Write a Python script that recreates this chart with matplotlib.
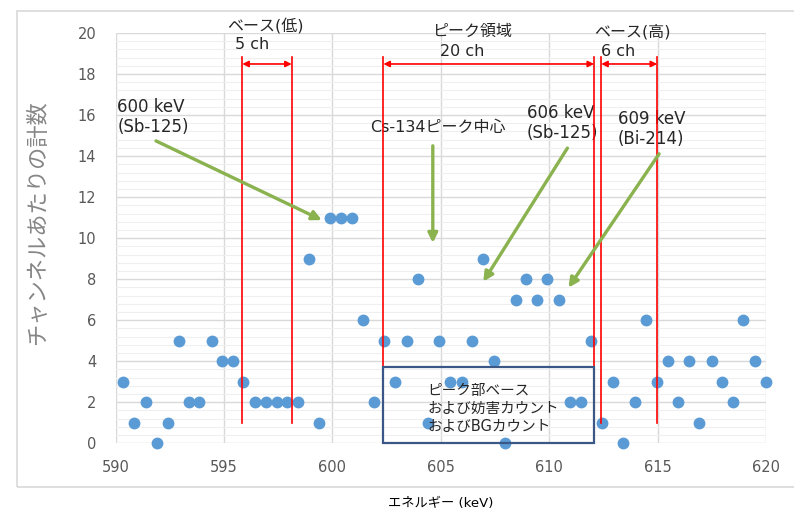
import numpy as np
import matplotlib
matplotlib.use('Agg')
import matplotlib.pyplot as plt
from matplotlib.patches import Rectangle
from matplotlib.ticker import MultipleLocator

plt.rcParams['font.family'] = ['DejaVu Sans', 'Noto Sans CJK JP']

# channel energies (keV) and counts
energy = [590.35, 590.86, 591.38, 591.92, 592.40, 592.90, 593.37, 593.86, 594.43, 594.92,
          595.40, 595.89, 596.43, 596.92, 597.43, 597.92, 598.40, 598.92, 599.40, 599.89,
          600.38, 600.89, 601.43, 601.92, 602.40, 602.89, 603.46, 603.94, 604.43, 604.92,
          605.43, 605.97, 606.46, 606.94, 607.43, 607.97, 608.47, 608.93, 609.43, 609.92,
          610.47, 610.96, 611.46, 611.93, 612.43, 612.93, 613.42, 613.96, 614.46, 614.96,
          615.47, 615.96, 616.46, 616.93, 617.50, 617.99, 618.47, 618.93, 619.50, 620.00]
counts = [3, 1, 2, 0, 1, 5, 2, 2, 5, 4,
          4, 3, 2, 2, 2, 2, 2, 9, 1, 11,
          11, 11, 6, 2, 5, 3, 5, 8, 1, 5,
          3, 3, 5, 9, 4, 0, 7, 8, 7, 8,
          7, 2, 2, 5, 1, 3, 0, 2, 6, 3,
          4, 2, 4, 1, 4, 3, 2, 6, 4, 3]

# region boundaries (keV)
base_low = (595.84, 598.12)
peak = (602.35, 612.07)
base_high = (612.40, 614.98)

red = '#FF0000'
green = '#8AB24F'
txt = '#262626'

fig = plt.figure(figsize=(7.94, 5.11), dpi=100)
ax = fig.add_axes([0.1457, 0.1325, 0.8190, 0.8029])

# outer chart frame
fig.patches.append(Rectangle((17/794, 1-487/511), 1.0, 476/511, transform=fig.transFigure,
                             fill=False, ec='#D9D9D9', lw=1.2, zorder=0))

ax.set_xlim(590, 620)
ax.set_ylim(0, 20)
ax.xaxis.set_major_locator(MultipleLocator(5))
ax.yaxis.set_major_locator(MultipleLocator(2))
ax.yaxis.set_minor_locator(MultipleLocator(0.4))
ax.grid(which='major', color='#D9D9D9', lw=1.0)
ax.grid(which='minor', axis='y', color='#EFEFEF', lw=0.8)
ax.set_axisbelow(True)
for s in ax.spines.values():
    s.set_visible(False)
ax.tick_params(which='both', length=0, labelsize=10.5, labelcolor='#595959')
ax.tick_params(axis='x', pad=12)
ax.tick_params(axis='y', pad=14)

ax.plot(energy, counts, 'o', color='#5B9BD5', ms=7.5, mec='#5B9BD5', clip_on=False, zorder=3)

# red region boundaries
for xv in [base_low[0], base_low[1], base_high[0], base_high[1]]:
    ax.plot([xv, xv], [1.0, 18.85], color=red, lw=1.2, zorder=4)
for xv in peak:
    ax.plot([xv, xv], [3.74, 18.85], color=red, lw=1.2, zorder=4)
for a, b in [base_low, peak, base_high]:
    ax.annotate('', xy=(b, 18.49), xytext=(a, 18.49),
                arrowprops=dict(arrowstyle='<|-|>', color=red, lw=1.2, mutation_scale=9,
                                shrinkA=0, shrinkB=0), zorder=4)

# box for peak base region
ax.add_patch(Rectangle((peak[0], 0), peak[1]-peak[0], 3.74, fill=False,
                       ec='#3A5786', lw=1.6, zorder=5, clip_on=False))
ax.text(604.38, 1.72, 'ピーク部ベース\nおよび妨害カウント\nおよびBGカウント', fontsize=10.5,
        color=txt, ha='left', va='center', linespacing=1.25, zorder=6)

# labels above regions
ax.text(595.16, 20.32, 'ベース(低)', fontsize=11.5, color=txt, ha='left', va='center', clip_on=False)
ax.text(595.50, 19.44, '5 ch', fontsize=11.5, color=txt, ha='left', va='center')
ax.text(604.58, 20.10, 'ピーク領域', fontsize=11.5, color=txt, ha='left', va='center', clip_on=False)
ax.text(604.95, 19.10, '20 ch', fontsize=11.5, color=txt, ha='left', va='center')
ax.text(612.06, 20.08, 'ベース(高)', fontsize=11.5, color=txt, ha='left', va='center', clip_on=False)
ax.text(612.37, 19.10, '6 ch', fontsize=11.5, color=txt, ha='left', va='center')

# peak labels with green arrows
ax.text(590.07, 15.89, '600 keV\n(Sb-125)', fontsize=12, color=txt, ha='left', va='center', linespacing=1.15)
ax.text(601.75, 15.40, 'Cs-134ピーク中心', fontsize=11.5, color=txt, ha='left', va='center')
ax.text(608.97, 15.62, '606 keV\n(Sb-125)', fontsize=12, color=txt, ha='left', va='center', linespacing=1.15)
ax.text(613.16, 15.33, '609 keV\n(Bi-214)', fontsize=12, color=txt, ha='left', va='center', linespacing=1.15)

green_arrows = [((591.86, 14.74), (599.51, 10.88)),
                ((604.63, 14.50), (604.63, 9.77)),
                ((610.84, 14.39), (606.96, 7.88)),
                ((615.07, 14.11), (610.89, 7.59))]
for start, end in green_arrows:
    ax.annotate('', xy=end, xytext=start,
                arrowprops=dict(arrowstyle='-|>', color=green, lw=2.4, mutation_scale=14,
                                shrinkA=0, shrinkB=0), zorder=6)

ax.set_ylabel('チャンネルあたりの計数', fontsize=16, color='#868686')
ax.yaxis.set_label_coords(-0.104, 0.537)
fig.text(0.555, 1-503/511, 'エネルギー (keV)', fontsize=9.5, color='black', ha='center', va='center')

fig.savefig('out.png', dpi=100)
